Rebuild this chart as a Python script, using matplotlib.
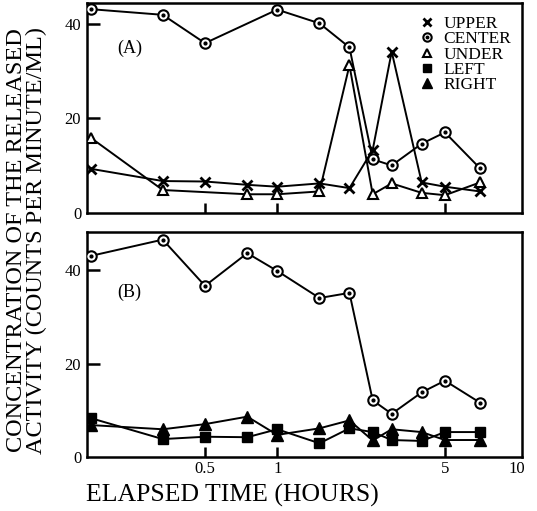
import matplotlib
matplotlib.use("Agg")
import matplotlib.pyplot as plt
from matplotlib.lines import Line2D
from matplotlib.legend_handler import HandlerTuple

plt.rcParams['font.family'] = ['Liberation Serif', 'DejaVu Serif']

# Sampling times (hours)
hours = [1/6, 1/3, 0.5, 0.75, 1.0, 1.5, 2.0, 2.5, 3.0, 4.0, 5.0, 7.0]
hours_under = [1/6, 1/3, 0.75, 1.0, 1.5, 2.0, 2.5, 3.0, 4.0, 5.0, 7.0]

# Panel (A)
upper_a = [9.3, 6.7, 6.6, 5.9, 5.5, 6.2, 5.2, 13.3, 34.1, 6.4, 5.5, 4.5]
center_a = [43.1, 41.9, 35.9, 43.0, 40.1, 35.0, 11.3, 10.0, 14.6, 17.0, 9.4]
center_a_hours = [1/6, 1/3, 0.5, 1.0, 1.5, 2.0, 2.5, 3.0, 4.0, 5.0, 7.0]
under_a = [15.9, 4.8, 3.9, 3.9, 4.5, 31.2, 3.9, 6.2, 4.2, 3.7, 6.4]

# Panel (B)
center_b = [43.1, 46.6, 36.7, 43.7, 39.9, 34.1, 35.2, 12.2, 9.3, 13.9, 16.4, 11.7]
left_b = [8.4, 3.9, 4.4, 4.3, 6.0, 3.0, 6.2, 5.4, 3.7, 3.5, 5.4, 5.4]
right_b = [6.9, 6.0, 7.1, 8.7, 4.8, 6.2, 7.9, 3.6, 6.0, 5.4, 3.7, 3.7]

x_ticks = [0.5, 1, 5, 10]
x_tick_labels = ["0.5", "1", "5", "10"]
y_ticks = [0, 20, 40]

fig = plt.figure(figsize=(5.37, 5.11), dpi=100)
ax_a = fig.add_axes([0.1615, 0.5838, 0.811, 0.4103])
ax_b = fig.add_axes([0.1615, 0.1051, 0.811, 0.4415])

LW = 1.4
MS = 7.5


def center_series(ax, x, y):
    ax.plot(x, y, color='black', lw=LW, marker='o', ms=MS,
            mfc='white', mec='black', mew=1.5, zorder=3)
    ax.plot(x, y, ls='none', marker='o', ms=2.0, color='black', zorder=4)


def style(ax, ymax, show_xlabels):
    ax.set_xscale('log')
    ax.set_xlim(0.1607, 10.5)
    ax.set_ylim(0, ymax)
    ax.minorticks_off()
    ax.set_xticks(x_ticks)
    ax.set_xticklabels(x_tick_labels if show_xlabels else [])
    ax.set_yticks(y_ticks)
    ax.set_yticklabels([str(v) for v in y_ticks])
    ax.tick_params(axis='x', direction='in', length=7, width=1.8,
                   labelsize=12, pad=3)
    ax.tick_params(axis='y', direction='in', length=9, width=1.8,
                   labelsize=12, pad=4)
    ax.yaxis.get_major_ticks()[0].tick1line.set_visible(False)
    ax.xaxis.get_major_ticks()[-1].tick1line.set_visible(False)
    for s in ax.spines.values():
        s.set_linewidth(1.8)


# Panel (A)
ax_a.plot(hours, upper_a, color='black', lw=LW, marker='x',
          ms=MS, mew=2.0, zorder=3)
center_series(ax_a, center_a_hours, center_a)
ax_a.plot(hours_under, under_a, color='black', lw=LW, marker='^',
          ms=MS, mfc='white', mec='black', mew=1.5, zorder=3)
style(ax_a, 44.4, False)
ax_a.text(0.07, 0.785, "(A)", transform=ax_a.transAxes, fontsize=13,
          va='center')

h_center_ring = Line2D([], [], ls='none', marker='o', ms=MS - 1.5,
                       mfc='white', mec='black', mew=1.5)
h_center_dot = Line2D([], [], ls='none', marker='o', ms=1.8, color='black')
h_upper_l = Line2D([], [], ls='none', marker='x', ms=MS - 1.5, mew=2.0,
                   color='black')
h_under_l = Line2D([], [], ls='none', marker='^', ms=MS - 1.5, mfc='white',
                   mec='black', mew=1.5)
h_left_l = Line2D([], [], ls='none', marker='s', ms=MS - 1.5, color='black')
h_right_l = Line2D([], [], ls='none', marker='^', ms=MS - 1.0, color='black')

ax_a.legend([h_upper_l, (h_center_ring, h_center_dot), h_under_l, h_left_l,
             h_right_l],
            ["UPPER", "CENTER", "UNDER", "LEFT", "RIGHT"],
            handler_map={tuple: HandlerTuple(ndivide=1, pad=0)},
            loc='upper right', bbox_to_anchor=(1.005, 1.0), frameon=False,
            fontsize=12.5, labelspacing=-0.05, handlelength=0.9,
            handletextpad=0.5, borderaxespad=0.35)

# Panel (B)
center_series(ax_b, hours, center_b)
ax_b.plot(hours, left_b, color='black', lw=LW, marker='s', ms=MS - 0.5,
          zorder=3)
ax_b.plot(hours, right_b, color='black', lw=LW, marker='^', ms=MS + 0.5,
          zorder=3)
style(ax_b, 48.3, True)
ax_b.text(0.07, 0.733, "(B)", transform=ax_b.transAxes, fontsize=13,
          va='center')

fig.text(0.049, 0.53, "CONCENTRATION OF THE RELEASED\nACTIVITY (COUNTS PER MINUTE/ML)",
         rotation=90, ha='center', va='center', fontsize=17.5,
         linespacing=0.9)
fig.text(0.432, 0.031, "ELAPSED TIME (HOURS)", ha='center', va='center',
         fontsize=18.5)

fig.savefig("out.png", dpi=100)
